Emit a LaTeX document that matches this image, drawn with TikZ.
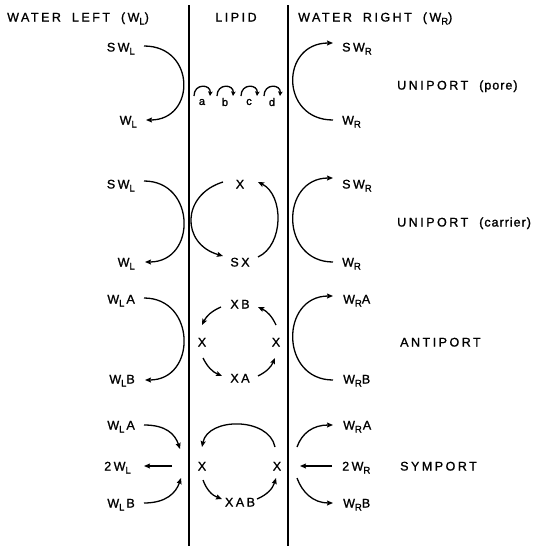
\documentclass[tikz,border=0pt]{standalone}
\usepackage{fontspec}
\setmainfont{Liberation Sans}[LetterSpace=20, FakeBold=1.2]
% tighter, slightly heavier face for the lowercase remarks
\newfontfamily\lcface{Liberation Sans}[LetterSpace=8, FakeBold=1.6]
\usetikzlibrary{arrows.meta}
% lowered subscript letter as used in W_L, W_R
\newcommand\lsub[1]{\raisebox{-3pt}{\fontsize{9.5}{9.5}\selectfont #1}}
% wide gap between words
\newcommand\wsp{\hspace{11pt}}
\tikzset{
  lbl/.style={font=\fontsize{12.5}{14}\selectfont, inner sep=0pt, text height=9pt, text depth=0pt},
  wl/.style={lbl, anchor=east},
  wr/.style={lbl, anchor=west},
  ttl/.style={lbl, anchor=west},
  sml/.style={font=\lcface\fontsize{11}{12}\selectfont, inner sep=0pt},
  flow/.style={line width=1.3pt, -{Stealth[length=6pt,width=5pt,inset=1pt]}},
  hop/.style={line width=1.3pt, -{Stealth[length=4.5pt,width=4.5pt,inset=0.8pt]}},
  wall/.style={line width=1.4pt},
}
\begin{document}
\begin{tikzpicture}[x=1pt,y=-1pt]
\useasboundingbox (0,0) rectangle (549,546);

% column headings
\node[lbl, anchor=west] (hl) at (7,17) {WATER\wsp LEFT\wsp (W\lsub{L})};
\node[lbl] (hm) at (236,17) {LIPID};
\node[lbl, anchor=west] (hr) at (298,17) {WATER\wsp RIGHT\wsp (W\lsub{R})};

% membrane walls
\coordinate (lwt) at (189,5);  \coordinate (lwb) at (189,546);
\coordinate (rwt) at (288,5);  \coordinate (rwb) at (288,546);
\draw[wall] (lwt) -- (lwb);
\draw[wall] (rwt) -- (rwb);

% ---------- uniport (pore) ----------
\node[wl] (sl1) at (135,47) {SW\lsub{L}};
\node[wl] (l1)  at (137,120) {W\lsub{L}};
\node[wr] (sr1) at (342,47) {SW\lsub{R}};
\node[wr] (r1)  at (342,120) {W\lsub{R}};
\node[ttl] (t1) at (397,85) {UNIPORT\wsp{\lcface(pore)}};
\draw[flow] ([shift={(9,-1)}]sl1.east) .. controls +(52,0) and +(50,0) .. ([shift={(9,0)}]l1.east);
\draw[flow] ([shift={(-9,0)}]r1.west) .. controls +(-53,0) and +(-53,0) .. ([shift={(-9,-4)}]sr1.west);

\foreach \n/\x in {a/202,b/225,c/249,d/272}{
  \node[sml] (k\n) at (\x,102) {\n};
  \draw[hop] ([shift={(-8,-6)}]k\n.center) .. controls +(0,-13) and +(1,-12) .. ([shift={(8,-6)}]k\n.center);
}

% ---------- uniport (carrier) ----------
\node[wl] (sl2) at (135,184) {SW\lsub{L}};
\node[wl] (l2)  at (135,262) {W\lsub{L}};
\node[wr] (sr2) at (342,184) {SW\lsub{R}};
\node[wr] (r2)  at (342,262) {W\lsub{R}};
\node[lbl] (x2)  at (240,184) {X};
\node[lbl] (sx2) at (240,262) {SX};
\node[ttl] (t2) at (397,222) {UNIPORT\wsp{\lcface(carrier)}};
\draw[flow] ([shift={(9,-3)}]sl2.east) .. controls +(52,0) and +(52,0) .. ([shift={(10,0)}]l2.east);
\draw[flow] ([shift={(-17,-2)}]x2.center) .. controls +(-42,13) and +(-42,-12) .. ([shift={(-17,-6)}]sx2.center);
\draw[flow] ([shift={(18,-5)}]sx2.center) .. controls +(26,-12) and +(26,13) .. ([shift={(18,-2)}]x2.center);
\draw[flow] ([shift={(-9,0)}]r2.west) .. controls +(-53,0) and +(-53,0) .. ([shift={(-9,-6)}]sr2.west);

% ---------- antiport ----------
\node[wl] (wla3) at (135,299) {W\lsub{L}\hspace{2pt}A};
\node[wl] (wlb3) at (135,379) {W\lsub{L}B};
\node[wr] (wra3) at (343,299) {W\lsub{R}A};
\node[wr] (wrb3) at (343,379) {W\lsub{R}B};
\node[lbl] (xb3) at (240,304) {XB};
\node[lbl] (xl3) at (202,342) {X};
\node[lbl] (xr3) at (276,342) {X};
\node[lbl] (xa3) at (240,378) {XA};
\node[ttl] (t3) at (400,342) {ANTIPORT};
\draw[flow] ([shift={(9,-1)}]wla3.east) .. controls +(52,0) and +(52,0) .. ([shift={(10,1)}]wlb3.east);
\draw[flow] ([shift={(-10,1)}]wrb3.west) .. controls +(-53,0) and +(-53,0) .. ([shift={(-10,-3)}]wra3.west);
\draw[flow] ([shift={(-19,3)}]xb3.center) to[bend right=20] ([shift={(0,-17)}]xl3.center);
\draw[flow] ([shift={(1,16)}]xl3.center) to[bend right=20] ([shift={(-18,-2)}]xa3.center);
\draw[flow] ([shift={(18,-2)}]xa3.center) to[bend right=20] ([shift={(-1,16)}]xr3.center);
\draw[flow] ([shift={(0,-17)}]xr3.center) to[bend right=20] ([shift={(18,3)}]xb3.center);

% ---------- symport ----------
\node[wl] (wla4) at (135,425) {W\lsub{L}\hspace{2pt}A};
\node[wl] (l2w4) at (131,466) {2W\lsub{L}};
\node[wl] (wlb4) at (135,503) {W\lsub{L}\hspace{2pt}B};
\node[wr] (wra4) at (343,425) {W\lsub{R}\hspace{1pt}A};
\node[wr] (r2w4) at (342,466) {2W\lsub{R}};
\node[wr] (wrb4) at (343,503) {W\lsub{R}B};
\node[lbl] (xl4) at (202,466) {X};
\node[lbl] (xr4) at (277,466) {X};
\node[lbl] (xab4) at (240,502) {XAB};
\node[ttl] (t4) at (400,466) {SYMPORT};
\coordinate (jl4) at (184,466);
\coordinate (jr4) at (294,466);
\draw[flow] ([shift={(9,0)}]wla4.east) .. controls +(22,0) and +(-5,-15) .. ([shift={(-4,-17)}]jl4);
\draw[flow] ([shift={(-12,0)}]jl4) -- ([shift={(13,0)}]l2w4.east);
\draw[flow] ([shift={(9,0)}]wlb4.east) .. controls +(22,0) and +(-5,15) .. ([shift={(-3,12)}]jl4);
\draw[flow] ([shift={(-2,-19)}]xr4.center) .. controls +(-6,-30) and +(6,-30) .. ([shift={(0,-19)}]xl4.center);
\draw[flow] ([shift={(1,14)}]xl4.center) to[bend right=25] ([shift={(-18,-3)}]xab4.center);
\draw[flow] ([shift={(17,-3)}]xab4.center) to[bend right=25] ([shift={(-1,12)}]xr4.center);
\draw[flow] ([shift={(3,-19)}]jr4) .. controls +(5,-14) and +(-20,0) .. ([shift={(-10,0)}]wra4.west);
\draw[flow] ([shift={(-10,0)}]r2w4.west) -- ([shift={(6,0)}]jr4);
\draw[flow] ([shift={(3,12)}]jr4) .. controls +(5,14) and +(-20,0) .. ([shift={(-10,0)}]wrb4.west);
\end{tikzpicture}
\end{document}
